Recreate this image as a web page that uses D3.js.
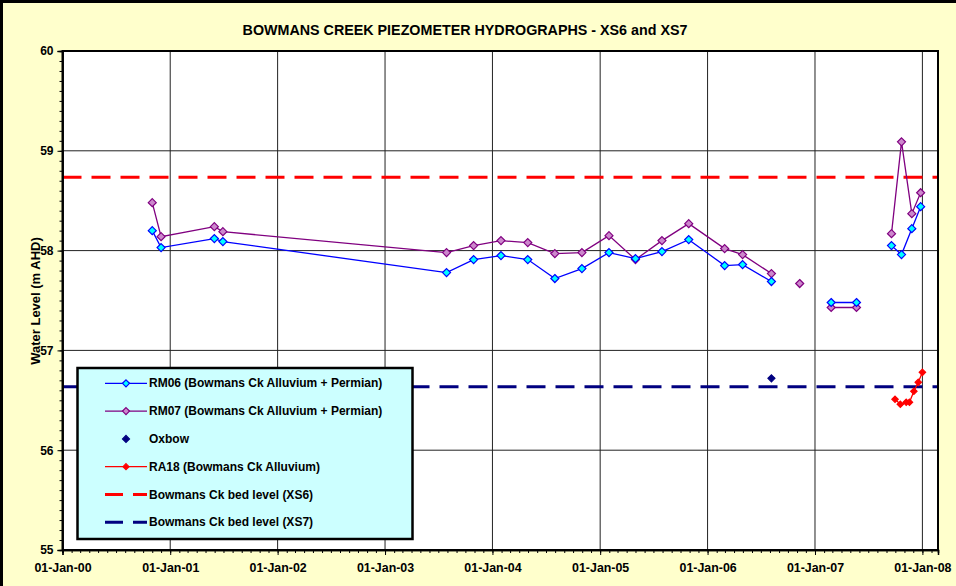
<!DOCTYPE html>
<html><head><meta charset="utf-8">
<script src="https://cdn.jsdelivr.net/npm/d3@7"></script>
<style>
body{margin:0;background:#FFFFCC;}
svg{display:block;}
text{font-family:"Liberation Sans",Arial,sans-serif;font-weight:bold;fill:#000;}
</style>
</head><body>
<svg id="c" width="956" height="586"></svg>
<script>
// ---- data ----
const chartTitle = "BOWMANS CREEK PIEZOMETER HYDROGRAPHS - XS6 and XS7";
const yAxisTitle = "Water Level (m AHD)";
const yTickValues = [55, 56, 57, 58, 59, 60];
const xTickDates = ["2000-01-01","2001-01-01","2002-01-01","2003-01-01","2004-01-01","2005-01-01","2006-01-01","2007-01-01","2008-01-01"];

const rm06Dates = ["2000-11-01","2000-12-01","2001-05-31","2001-06-29","2003-07-29","2003-10-29","2004-01-30","2004-04-30","2004-07-31","2004-10-31","2005-01-31","2005-05-01","2005-07-30","2005-10-29","2006-02-28","2006-04-30","2006-08-06","2006-11-10","2007-02-25","2007-05-22","2007-07-15","2007-09-18","2007-10-22","2007-11-26","2007-12-26"];
const rm06Values = [58.20,58.03,58.12,58.09,57.78,57.91,57.95,57.91,57.72,57.82,57.98,57.92,57.99,58.11,57.85,57.86,57.69,null,57.48,57.48,null,58.05,57.96,58.22,58.44];

const rm07Dates = ["2000-11-01","2000-12-01","2001-05-31","2001-06-29","2003-07-29","2003-10-29","2004-01-30","2004-04-30","2004-07-31","2004-10-31","2005-01-31","2005-05-01","2005-07-30","2005-10-29","2006-02-28","2006-04-30","2006-08-06","2006-09-20","2006-11-10","2006-12-20","2007-02-25","2007-05-22","2007-07-15","2007-09-18","2007-10-22","2007-11-26","2007-12-26"];
const rm07Values = [58.48,58.14,58.24,58.19,57.98,58.05,58.10,58.08,57.97,57.98,58.15,57.91,58.10,58.27,58.02,57.96,57.77,null,57.67,null,57.43,57.43,null,58.17,59.09,58.37,58.58];

const oxbowDates = ["2006-08-06"];
const oxbowValues = [56.72];

const ra18Dates = ["2007-09-30","2007-10-18","2007-11-07","2007-11-18","2007-12-03","2007-12-18","2008-01-01"];
const ra18Values = [56.51,56.46,56.48,56.48,56.59,56.68,56.78];

const bedLevelXS6 = 58.735;
const bedLevelXS7 = 56.637;

const legendLabels = ["RM06 (Bowmans Ck Alluvium + Permian)","RM07 (Bowmans Ck Alluvium + Permian)","Oxbow","RA18 (Bowmans Ck Alluvium)","Bowmans Ck bed level (XS6)","Bowmans Ck bed level (XS7)"];

// ---- drawing ----
const parse = d3.timeParse("%Y-%m-%d");
const svg = d3.select("#c");
const L = 62.5, R = 938, T = 51, B = 550;

const x = d3.scaleTime().domain([parse("2000-01-01"), parse("2008-02-23")]).range([L, R]);
const y = d3.scaleLinear().domain([55, 60]).range([B, T]);

// background + partial outer border (left/top)
svg.append("rect").attr("x",0).attr("y",0).attr("width",956).attr("height",586).attr("fill","#FFFFCC");
svg.append("rect").attr("x",1.5).attr("y",1.5).attr("width",1000).attr("height",1000)
  .attr("fill","none").attr("stroke","#000").attr("stroke-width",3);

// plot area
svg.append("rect").attr("x",L).attr("y",T).attr("width",R-L).attr("height",B-T).attr("fill","#fff");

// gridlines
const xTicks = xTickDates.map(parse);
svg.append("g").selectAll("line").data(xTicks.slice(1)).join("line")
  .attr("x1",d=>x(d)).attr("x2",d=>x(d)).attr("y1",T).attr("y2",B)
  .attr("stroke","#222").attr("stroke-width",1);
svg.append("g").selectAll("line").data(yTickValues.slice(1,-1)).join("line")
  .attr("x1",L).attr("x2",R).attr("y1",d=>y(d)).attr("y2",d=>y(d))
  .attr("stroke","#222").attr("stroke-width",1);

svg.append("clipPath").attr("id","pc").append("rect")
  .attr("x",L).attr("y",T).attr("width",R-L).attr("height",B-T);

// bed levels (dashed)
const gp = svg.append("g").attr("clip-path","url(#pc)");
[[bedLevelXS6,"#FF0000"],[bedLevelXS7,"#000080"]].forEach(([v,c])=>{
  gp.append("line").attr("x1",L).attr("x2",R).attr("y1",y(v)).attr("y2",y(v))
    .attr("stroke",c).attr("stroke-width",3).attr("stroke-dasharray","19,10");
});

function series(dates, values){
  return dates.map((d,i)=>({date:parse(d), value:values[i]}));
}
const line = d3.line().defined(d=>d.value!=null).x(d=>x(d.date)).y(d=>y(d.value));
const diamond = (r)=>`M0,${-r}L${r},0L0,${r}L${-r},0Z`;

function drawSeries(data, lineColor, fill, stroke, r, lw, drawLine){
  if(drawLine){
    svg.append("path").datum(data).attr("d",line).attr("fill","none")
      .attr("stroke",lineColor).attr("stroke-width",lw);
  }
  svg.append("g").selectAll("path").data(data.filter(d=>d.value!=null)).join("path")
    .attr("transform",d=>`translate(${x(d.date)},${y(d.value)})`)
    .attr("d",diamond(r)).attr("fill",fill).attr("stroke",stroke).attr("stroke-width",1.2);
}
drawSeries(series(rm07Dates,rm07Values),"#800080","#CC88CC","#800080",4,1.3,true);
drawSeries(series(rm06Dates,rm06Values),"#0000FF","#00FFFF","#0000FF",4,1.3,true);
drawSeries(series(oxbowDates,oxbowValues),"#000080","#000080","#000080",3.5,1,false);
drawSeries(series(ra18Dates,ra18Values),"#FF0000","#FF0000","#FF0000",3.2,1.3,true);

// plot frame
svg.append("rect").attr("x",L).attr("y",T).attr("width",R-L).attr("height",B-T)
  .attr("fill","none").attr("stroke","#000").attr("stroke-width",2);

// axes
const fmt = d3.timeFormat("%d-%b-%y");
const xMinor = svg.append("g").attr("transform",`translate(0,${B})`)
  .call(d3.axisBottom(x).tickValues(d3.timeMonth.range(parse("2000-01-01"), parse("2008-02-23"))).tickFormat("").tickSize(3));
const xMajor = svg.append("g").attr("transform",`translate(0,${B})`)
  .call(d3.axisBottom(x).tickValues(xTicks).tickFormat(fmt).tickSize(5).tickPadding(8));
const yMinor = svg.append("g").attr("transform",`translate(${L},0)`)
  .call(d3.axisLeft(y).tickValues(d3.range(550,601).map(v=>v/10)).tickFormat("").tickSize(3));
const yMajor = svg.append("g").attr("transform",`translate(${L},0)`)
  .call(d3.axisLeft(y).tickValues(yTickValues).tickFormat(d3.format("d")).tickSize(5).tickPadding(4));
[xMinor,xMajor,yMinor,yMajor].forEach(g=>{
  g.select(".domain").attr("stroke","#000").attr("stroke-width",1.5);
  g.selectAll(".tick line").attr("stroke","#000");
  g.selectAll("text").attr("font-size",12).attr("font-family","'Liberation Sans',Arial,sans-serif").attr("font-weight","bold").attr("fill","#000");
});
xMajor.selectAll("text").attr("font-size",12.4);

// titles
svg.append("text").attr("x",465).attr("y",35).attr("text-anchor","middle")
  .attr("font-size",14.3).text(chartTitle);
svg.append("text").attr("transform","translate(35.5,301) rotate(-90)").attr("text-anchor","middle")
  .attr("dominant-baseline","central").attr("font-size",13).text(yAxisTitle);

// legend
const lg = svg.append("g");
lg.append("rect").attr("x",77.5).attr("y",368).attr("width",335).attr("height",171)
  .attr("fill","#CCFFFF").attr("stroke","#000").attr("stroke-width",2.5);
const rowY = (i)=>383.3 + i*27.8;
const legendSpecs = [
  {line:"#0000FF", fill:"#00FFFF", stroke:"#0000FF", r:3.5, dash:null, showLine:true},
  {line:"#800080", fill:"#CC88CC", stroke:"#800080", r:3.5, dash:null, showLine:true},
  {line:null, fill:"#000080", stroke:"#000080", r:3.5, dash:null, showLine:false},
  {line:"#FF0000", fill:"#FF0000", stroke:"#FF0000", r:3, dash:null, showLine:true},
  {line:"#FF0000", fill:null, dash:"18,10", showLine:true, w:3},
  {line:"#000080", fill:null, dash:"18,10", showLine:true, w:3}
];
legendSpecs.forEach((s,i)=>{
  const yy = rowY(i);
  if(s.showLine){
    lg.append("line").attr("x1",105).attr("x2",147).attr("y1",yy).attr("y2",yy)
      .attr("stroke",s.line).attr("stroke-width",s.w||1.3).attr("stroke-dasharray",s.dash);
  }
  if(s.fill){
    lg.append("path").attr("transform",`translate(126,${yy})`).attr("d",diamond(s.r))
      .attr("fill",s.fill).attr("stroke",s.stroke).attr("stroke-width",1.2);
  }
  lg.append("text").attr("x",149).attr("y",yy).attr("dominant-baseline","central")
    .attr("font-size",12).text(legendLabels[i]);
});
</script>
</body></html>
